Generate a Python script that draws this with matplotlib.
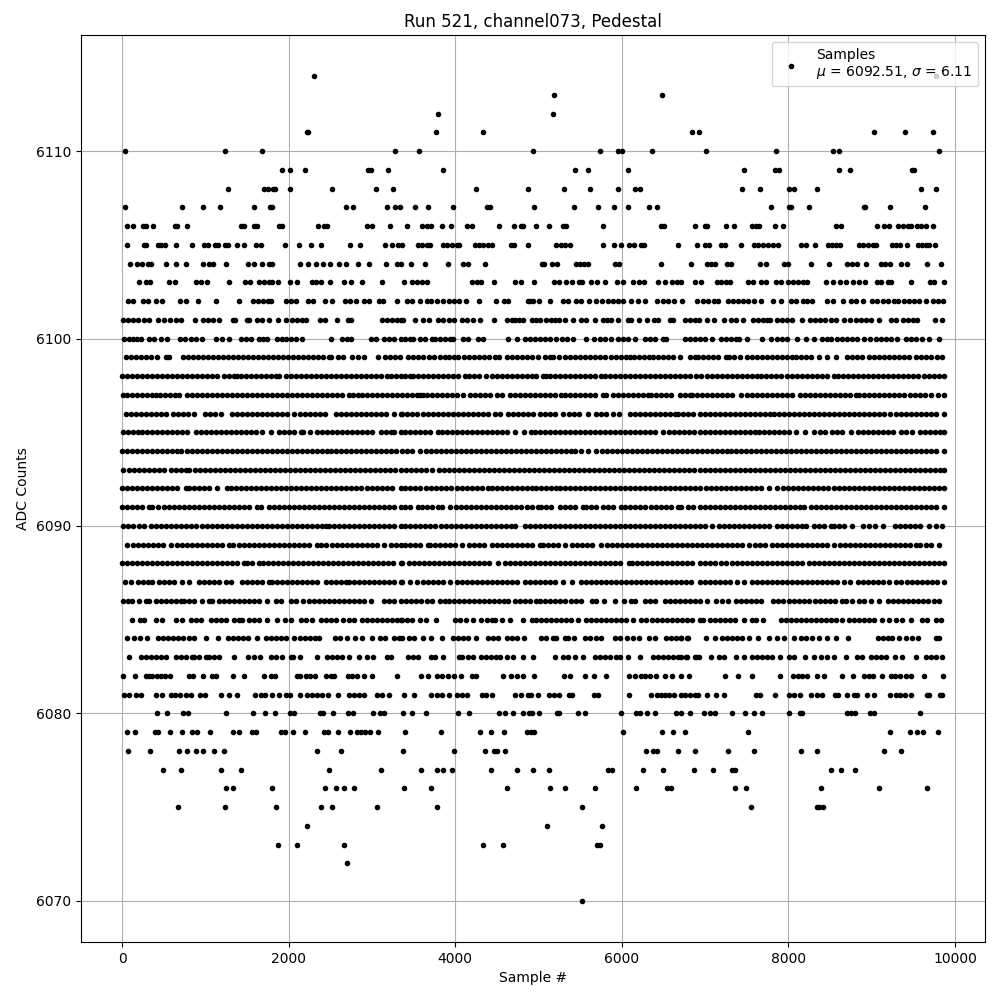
import matplotlib
matplotlib.use("Agg")
import matplotlib.pyplot as plt

# sample numbers, one list per ADC level
level_6114 = [2304, 9768]
level_6113 = [5184, 6480]
level_6112 = [3792, 5172]
level_6111 = [2220, 2236, 3768, 4332, 6840, 6924, 9024, 9396, 9732]
level_6110 = [36, 1236, 1680, 3276, 3564, 4932, 5736, 5960, 6000, 6360, 7008, 7848, 8532, 8604, 9804]
level_6109 = [1920, 2016, 2196, 2952, 2984, 3192, 3852, 5436, 5592, 6072, 7464, 7836, 7884, 8604, 8736, 9484, 9508]
level_6108 = [1272, 1704, 1752, 1816, 1840, 2016, 2520, 3048, 3252, 4248, 4872, 5304, 5616, 5952, 6156, 6220, 7440, 7656, 8004, 8064, 8340, 9588, 9768]
level_6107 = [36, 720, 972, 1176, 1584, 1776, 1804, 2688, 2772, 3180, 3276, 3336, 3516, 3672, 3972, 4380, 4416, 4944, 5424, 5712, 5904, 6072, 6324, 6420, 7788, 8004, 8032, 8244, 8904, 8924, 9216, 9636]
level_6106 = [60, 128, 252, 284, 368, 632, 656, 780, 1428, 1464, 1584, 1624, 1884, 1920, 2352, 2424, 2460, 2940, 3000, 3216, 3416, 3600, 3664, 3704, 3840, 3948, 4140, 4200, 4524, 4704, 4784, 4816, 4968, 5124, 5292, 5332, 5772, 6468, 6504, 6876, 6996, 7028, 7248, 7344, 7560, 7612, 7644, 7836, 7932, 8568, 8628, 9060, 9144, 9212, 9312, 9380, 9432, 9476, 9540, 9592, 9652, 9732]
level_6105 = [60, 264, 288, 432, 472, 520, 648, 840, 984, 1032, 1116, 1152, 1236, 1268, 1380, 1464, 1608, 1664, 1956, 2124, 2268, 2388, 2736, 2856, 3156, 3240, 3312, 3360, 3552, 3600, 3656, 3696, 3852, 3904, 3960, 4024, 4044, 4236, 4284, 4332, 4392, 4440, 4664, 4704, 4872, 5212, 5268, 5324, 5380, 5772, 5904, 5988, 6084, 6144, 6228, 6264, 6672, 6900, 6996, 7044, 7192, 7236, 7428, 7584, 7632, 7692, 7752, 7812, 7872, 8148, 8208, 8316, 8472, 8520, 8572, 8616, 8844, 8892, 8956, 9012, 9052, 9240, 9292, 9340, 9420, 9552, 9600, 9652, 9692, 9756]
level_6104 = [96, 180, 240, 312, 352, 528, 648, 768, 972, 1044, 1096, 1248, 1512, 1584, 1680, 1764, 1800, 2136, 2232, 2328, 2412, 2496, 2604, 2688, 2832, 2964, 3168, 3300, 3352, 3468, 3636, 3912, 4092, 4152, 4352, 5040, 5072, 5160, 5220, 5448, 5500, 5544, 5592, 5916, 5964, 6468, 6828, 7020, 7072, 7116, 7260, 7316, 7656, 7736, 7952, 7992, 8268, 8484, 8700, 8760, 8820, 8928, 9108, 9156, 9216, 9348, 9420, 9660, 9828]
level_6103 = [204, 288, 336, 564, 636, 888, 944, 1024, 1284, 1476, 1536, 1644, 1704, 1764, 1804, 1872, 2016, 2104, 2284, 2324, 2384, 2496, 2664, 2748, 2880, 3116, 3384, 3476, 3544, 3604, 3664, 4200, 4264, 4304, 4464, 4716, 4788, 4944, 5184, 5244, 5328, 5400, 5492, 5524, 5628, 5700, 5796, 5940, 6012, 6132, 6204, 6264, 6432, 6516, 6604, 6660, 6712, 6876, 6948, 7140, 7192, 7252, 7304, 7512, 7572, 7668, 7732, 7852, 7912, 7992, 8052, 8112, 8172, 8224, 8448, 8532, 8620, 8692, 8772, 8852, 8924, 9060, 9112, 9192, 9232, 9468, 9704, 9752, 9864]
level_6102 = [68, 128, 252, 312, 404, 484, 696, 768, 912, 1128, 1400, 1572, 1632, 1692, 1752, 1792, 1964, 2024, 2088, 2232, 2292, 2436, 2516, 2676, 2736, 2804, 2904, 2964, 3084, 3132, 3296, 3416, 3484, 3576, 3664, 3712, 3780, 3856, 3924, 3984, 4044, 4128, 4284, 4488, 4584, 4632, 4872, 4892, 4940, 5012, 5136, 5292, 5352, 5448, 5512, 5604, 5692, 5764, 5832, 5892, 5952, 6012, 6108, 6192, 6276, 6420, 6492, 6552, 6624, 6720, 6900, 6980, 7032, 7104, 7156, 7272, 7332, 7392, 7452, 7512, 7584, 7668, 7812, 7908, 8032, 8092, 8172, 8220, 8284, 8460, 8532, 8652, 8752, 8812, 8892, 9000, 9060, 9132, 9192, 9272, 9312, 9392, 9452, 9512, 9572, 9652, 9732, 9792, 9852]
level_6101 = [8, 68, 130, 192, 262, 328, 436, 500, 572, 644, 708, 876, 976, 1036, 1096, 1164, 1328, 1356, 1504, 1524, 1616, 1680, 1764, 1872, 1968, 2036, 2100, 2160, 2212, 2376, 2432, 2580, 2716, 2752, 3116, 3180, 3240, 3300, 3344, 3376, 3516, 3616, 3688, 3788, 3856, 3928, 3988, 4076, 4140, 4216, 4296, 4468, 4616, 4676, 4716, 4764, 4816, 4916, 4976, 5016, 5096, 5148, 5196, 5248, 5324, 5416, 5516, 5576, 5676, 5776, 5828, 5876, 5956, 6076, 6116, 6208, 6304, 6384, 6436, 6576, 6616, 6756, 6820, 6880, 6928, 7028, 7108, 7228, 7316, 7376, 7460, 7576, 7636, 7696, 7748, 7776, 7860, 7924, 7988, 8048, 8168, 8256, 8316, 8380, 8444, 8508, 8576, 8668, 8736, 8808, 8868, 8932, 8996, 9088, 9228, 9288, 9376, 9436, 9496, 9548, 9756, 9848]
level_6100 = [24, 84, 130, 176, 232, 324, 384, 464, 544, 696, 760, 824, 884, 960, 1124, 1204, 1284, 1424, 1484, 1548, 1644, 1696, 1744, 1864, 1920, 1964, 2024, 2084, 2164, 2504, 2644, 2700, 2744, 2984, 3044, 3144, 3204, 3268, 3344, 3400, 3456, 3496, 3576, 3636, 3716, 3756, 3816, 3876, 3936, 3976, 4088, 4156, 4276, 4336, 4636, 4744, 4836, 4896, 4956, 5016, 5076, 5136, 5216, 5284, 5344, 5416, 5576, 5668, 5736, 5796, 5876, 5956, 6016, 6076, 6156, 6276, 6340, 6400, 6496, 6536, 6756, 6820, 6880, 6940, 7000, 7088, 7188, 7248, 7308, 7368, 7408, 7508, 7688, 7788, 7860, 7928, 7988, 8108, 8208, 8312, 8408, 8460, 8508, 8588, 8648, 8708, 8768, 8828, 8908, 8976, 9048, 9108, 9168, 9232, 9308, 9408, 9468, 9528, 9608, 9688, 9808]
level_6099 = [48, 108, 168, 228, 288, 348, 424, 524, 564, 736, 796, 856, 916, 976, 1036, 1096, 1156, 1216, 1276, 1336, 1396, 1456, 1516, 1576, 1636, 1696, 1756, 1816, 1876, 1936, 1996, 2056, 2116, 2176, 2236, 2296, 2356, 2416, 2484, 2504, 2592, 2656, 2764, 2828, 2904, 3072, 3152, 3212, 3272, 3336, 3436, 3496, 3556, 3616, 3688, 3748, 3812, 3876, 3928, 3988, 4036, 4108, 4168, 4228, 4288, 4348, 4408, 4476, 4520, 4616, 4676, 4736, 4796, 4856, 4916, 4996, 5076, 5136, 5176, 5244, 5324, 5384, 5444, 5504, 5564, 5624, 5684, 5744, 5796, 5876, 5936, 5996, 6056, 6096, 6148, 6208, 6268, 6328, 6376, 6436, 6496, 6556, 6616, 6696, 6816, 6876, 6920, 6980, 7040, 7100, 7160, 7248, 7288, 7348, 7416, 7508, 7568, 7628, 7688, 7748, 7808, 7868, 7928, 7988, 8048, 8096, 8156, 8216, 8276, 8368, 8468, 8568, 8708, 8768, 8828, 8888, 8968, 9028, 9088, 9148, 9208, 9268, 9328, 9388, 9448, 9528, 9588, 9648, 9708, 9788, 9848]
level_6098 = [0, 60, 120, 180, 240, 300, 360, 420, 480, 540, 600, 660, 720, 780, 840, 900, 960, 1020, 1080, 1140, 1224, 1284, 1344, 1384, 1424, 1484, 1544, 1604, 1664, 1724, 1784, 1844, 1884, 1964, 2024, 2084, 2144, 2204, 2264, 2324, 2384, 2444, 2504, 2564, 2624, 2684, 2744, 2804, 2864, 2924, 2984, 3044, 3104, 3184, 3224, 3284, 3344, 3400, 3456, 3496, 3556, 3616, 3676, 3736, 3796, 3856, 3916, 3976, 4036, 4116, 4168, 4228, 4288, 4368, 4436, 4496, 4556, 4616, 4676, 4736, 4796, 4856, 4916, 4976, 5056, 5088, 5136, 5196, 5256, 5316, 5376, 5436, 5496, 5556, 5616, 5676, 5756, 5796, 5856, 5916, 5976, 6036, 6096, 6156, 6216, 6276, 6336, 6396, 6456, 6516, 6576, 6636, 6696, 6756, 6816, 6888, 6948, 7028, 7088, 7148, 7208, 7268, 7328, 7388, 7448, 7508, 7568, 7628, 7668, 7728, 7788, 7848, 7908, 7988, 8040, 8100, 8160, 8220, 8280, 8340, 8400, 8460, 8548, 8600, 8660, 8720, 8780, 8840, 8900, 8960, 9020, 9080, 9140, 9200, 9260, 9320, 9380, 9440, 9500, 9560, 9628, 9688, 9748, 9808, 9868]
level_6097 = [8, 64, 124, 184, 244, 304, 364, 404, 456, 516, 576, 636, 684, 776, 836, 896, 956, 1016, 1076, 1136, 1196, 1256, 1316, 1376, 1436, 1496, 1556, 1616, 1676, 1736, 1796, 1856, 1916, 1976, 2036, 2096, 2156, 2216, 2276, 2336, 2396, 2456, 2516, 2576, 2636, 2724, 2776, 2836, 2884, 2944, 3004, 3064, 3124, 3184, 3244, 3304, 3356, 3416, 3476, 3536, 3576, 3608, 3664, 3724, 3784, 3844, 3904, 3964, 4024, 4096, 4176, 4236, 4296, 4356, 4416, 4496, 4556, 4656, 4716, 4776, 4836, 4896, 4956, 5016, 5076, 5136, 5196, 5276, 5324, 5384, 5444, 5504, 5564, 5624, 5684, 5776, 5816, 5896, 5956, 6016, 6076, 6136, 6196, 6256, 6316, 6356, 6416, 6476, 6536, 6596, 6696, 6756, 6816, 6848, 6908, 6968, 7028, 7088, 7148, 7208, 7268, 7328, 7428, 7508, 7568, 7628, 7688, 7748, 7808, 7868, 7928, 7988, 8048, 8136, 8196, 8256, 8316, 8376, 8436, 8496, 8556, 8616, 8676, 8736, 8808, 8848, 8908, 8968, 9028, 9088, 9148, 9208, 9268, 9328, 9388, 9456, 9516, 9576, 9636, 9708, 9800, 9868]
level_6096 = [44, 104, 164, 224, 284, 344, 404, 464, 524, 616, 676, 736, 796, 864, 992, 1052, 1112, 1192, 1324, 1384, 1444, 1504, 1564, 1624, 1684, 1744, 1804, 1864, 1924, 1984, 2064, 2136, 2196, 2256, 2316, 2376, 2432, 2564, 2624, 2684, 2744, 2804, 2864, 2924, 2984, 3044, 3104, 3164, 3264, 3344, 3356, 3416, 3476, 3536, 3608, 3668, 3728, 3788, 3848, 3908, 3968, 4028, 4088, 4148, 4208, 4268, 4328, 4388, 4476, 4536, 4636, 4696, 4756, 4816, 4876, 4936, 5016, 5076, 5136, 5196, 5296, 5368, 5428, 5488, 5596, 5696, 5756, 5816, 5896, 5964, 6096, 6156, 6216, 6276, 6336, 6396, 6456, 6516, 6576, 6636, 6676, 6736, 6796, 6856, 6936, 6996, 7056, 7116, 7176, 7236, 7296, 7356, 7416, 7476, 7536, 7596, 7656, 7716, 7776, 7828, 7888, 7948, 8008, 8068, 8128, 8188, 8248, 8308, 8368, 8428, 8488, 8548, 8608, 8668, 8728, 8788, 8848, 8908, 8968, 9028, 9088, 9148, 9216, 9288, 9348, 9408, 9468, 9528, 9588, 9648, 9708, 9768, 9868]
level_6095 = [16, 76, 136, 196, 244, 304, 364, 424, 484, 544, 604, 664, 724, 784, 884, 944, 1004, 1064, 1124, 1184, 1244, 1304, 1364, 1424, 1484, 1544, 1604, 1676, 1784, 1884, 1944, 2004, 2064, 2144, 2172, 2256, 2344, 2404, 2464, 2524, 2584, 2644, 2704, 2764, 2824, 2884, 2944, 3004, 3104, 3164, 3224, 3264, 3344, 3396, 3456, 3516, 3576, 3636, 3696, 3796, 3836, 3896, 3956, 4016, 4076, 4136, 4196, 4256, 4316, 4376, 4436, 4496, 4556, 4616, 4716, 4824, 4904, 4964, 5024, 5084, 5144, 5204, 5264, 5324, 5384, 5444, 5504, 5564, 5624, 5684, 5744, 5804, 5864, 5924, 5984, 6044, 6104, 6164, 6224, 6284, 6344, 6404, 6496, 6568, 6628, 6688, 6748, 6808, 6868, 6936, 6996, 7056, 7116, 7176, 7236, 7296, 7356, 7416, 7476, 7536, 7596, 7648, 7708, 7768, 7828, 7888, 7948, 8008, 8088, 8200, 8308, 8376, 8440, 8520, 8580, 8640, 8748, 8840, 8900, 8960, 9020, 9080, 9140, 9200, 9260, 9348, 9408, 9480, 9576, 9636, 9696, 9756, 9816, 9868]
level_6094 = [0, 60, 124, 176, 236, 296, 356, 416, 476, 536, 596, 656, 704, 776, 836, 896, 956, 1016, 1076, 1136, 1196, 1256, 1316, 1376, 1436, 1496, 1556, 1616, 1676, 1736, 1796, 1856, 1916, 1976, 2036, 2096, 2156, 2216, 2276, 2336, 2396, 2456, 2504, 2564, 2624, 2684, 2744, 2804, 2864, 2924, 2984, 3044, 3104, 3164, 3224, 3284, 3356, 3416, 3476, 3576, 3648, 3708, 3768, 3828, 3888, 3948, 4008, 4068, 4128, 4188, 4248, 4308, 4368, 4428, 4488, 4548, 4608, 4668, 4728, 4788, 4848, 4908, 4968, 5028, 5088, 5148, 5208, 5268, 5328, 5388, 5436, 5516, 5596, 5696, 5768, 5828, 5888, 5948, 6008, 6068, 6128, 6188, 6248, 6308, 6368, 6428, 6488, 6548, 6608, 6668, 6728, 6788, 6848, 6908, 6968, 7028, 7088, 7148, 7208, 7268, 7308, 7368, 7428, 7488, 7548, 7608, 7668, 7728, 7788, 7848, 7908, 7968, 8028, 8088, 8148, 8208, 8268, 8328, 8388, 8448, 8508, 8568, 8628, 8688, 8748, 8808, 8868, 8928, 8988, 9048, 9108, 9168, 9228, 9288, 9348, 9408, 9468, 9528, 9588, 9648, 9708, 9768, 9868]
level_6093 = [8, 84, 144, 204, 264, 324, 384, 444, 504, 592, 644, 704, 764, 804, 872, 932, 992, 1052, 1112, 1172, 1232, 1292, 1352, 1412, 1472, 1532, 1592, 1652, 1712, 1772, 1832, 1892, 1952, 2012, 2072, 2132, 2192, 2252, 2312, 2372, 2432, 2492, 2552, 2612, 2672, 2732, 2792, 2852, 2912, 2972, 3032, 3092, 3152, 3212, 3272, 3344, 3404, 3464, 3524, 3584, 3644, 3716, 3808, 3868, 3928, 3988, 4048, 4108, 4168, 4228, 4288, 4348, 4408, 4468, 4528, 4588, 4648, 4708, 4768, 4828, 4888, 4948, 5008, 5068, 5128, 5188, 5248, 5308, 5368, 5428, 5488, 5548, 5608, 5668, 5728, 5788, 5848, 5908, 5968, 6028, 6088, 6148, 6208, 6268, 6328, 6388, 6448, 6508, 6568, 6628, 6688, 6748, 6808, 6868, 6936, 6996, 7056, 7116, 7176, 7236, 7296, 7356, 7416, 7476, 7536, 7596, 7656, 7716, 7776, 7836, 7896, 7956, 8016, 8076, 8136, 8196, 8256, 8316, 8376, 8436, 8496, 8556, 8616, 8676, 8736, 8796, 8856, 8916, 8976, 9036, 9096, 9156, 9216, 9276, 9336, 9396, 9456, 9516, 9576, 9636, 9696, 9756, 9816, 9868]
level_6092 = [4, 64, 124, 184, 244, 304, 364, 424, 484, 544, 604, 664, 764, 804, 864, 924, 984, 1044, 1144, 1256, 1312, 1372, 1432, 1492, 1552, 1612, 1672, 1732, 1792, 1852, 1912, 1972, 2032, 2092, 2152, 2212, 2272, 2332, 2392, 2452, 2512, 2572, 2632, 2692, 2752, 2812, 2872, 2944, 3004, 3064, 3124, 3184, 3244, 3344, 3396, 3456, 3516, 3576, 3648, 3704, 3764, 3824, 3884, 3944, 4016, 4076, 4136, 4196, 4256, 4316, 4396, 4436, 4496, 4556, 4616, 4676, 4736, 4796, 4856, 4916, 4976, 5036, 5096, 5156, 5216, 5256, 5316, 5376, 5436, 5496, 5556, 5616, 5676, 5736, 5796, 5856, 5916, 5976, 6036, 6096, 6156, 6216, 6276, 6336, 6396, 6456, 6516, 6576, 6636, 6696, 6756, 6816, 6876, 6936, 7008, 7068, 7128, 7188, 7248, 7308, 7368, 7428, 7488, 7548, 7608, 7668, 7768, 7868, 7936, 7996, 8056, 8116, 8176, 8236, 8296, 8356, 8416, 8476, 8548, 8608, 8668, 8728, 8788, 8848, 8908, 8968, 9028, 9088, 9148, 9208, 9268, 9328, 9388, 9448, 9508, 9568, 9628, 9688, 9748, 9808, 9868]
level_6091 = [0, 60, 124, 176, 244, 324, 364, 432, 504, 564, 624, 684, 744, 804, 864, 924, 984, 1044, 1104, 1164, 1224, 1284, 1344, 1404, 1464, 1524, 1624, 1672, 1764, 1824, 1884, 1944, 2004, 2064, 2124, 2184, 2244, 2304, 2364, 2424, 2484, 2544, 2604, 2664, 2724, 2784, 2844, 2904, 2964, 3024, 3084, 3144, 3204, 3264, 3344, 3396, 3456, 3556, 3596, 3656, 3716, 3796, 3836, 3936, 4008, 4068, 4128, 4188, 4248, 4308, 4368, 4428, 4488, 4548, 4608, 4668, 4728, 4788, 4856, 4916, 4996, 5036, 5096, 5156, 5256, 5324, 5384, 5444, 5536, 5576, 5636, 5696, 5776, 5836, 5896, 5996, 6036, 6096, 6156, 6216, 6276, 6356, 6416, 6476, 6536, 6596, 6676, 6716, 6796, 6856, 6936, 6996, 7056, 7116, 7176, 7236, 7296, 7356, 7416, 7476, 7536, 7596, 7656, 7716, 7776, 7836, 7896, 7956, 8016, 8076, 8136, 8188, 8268, 8328, 8388, 8448, 8508, 8568, 8628, 8688, 8748, 8808, 8868, 8928, 8988, 9048, 9108, 9168, 9228, 9288, 9348, 9408, 9468, 9528, 9588, 9648, 9708, 9768, 9868]
level_6090 = [16, 76, 136, 204, 264, 344, 404, 464, 524, 584, 644, 704, 764, 824, 884, 964, 1016, 1076, 1136, 1196, 1256, 1316, 1376, 1436, 1496, 1556, 1616, 1676, 1736, 1796, 1856, 1916, 1976, 2036, 2096, 2156, 2216, 2276, 2336, 2396, 2444, 2484, 2544, 2604, 2664, 2724, 2784, 2844, 2904, 2964, 3024, 3084, 3144, 3204, 3264, 3344, 3396, 3456, 3516, 3576, 3636, 3696, 3756, 3824, 3884, 3944, 4004, 4064, 4124, 4184, 4244, 4304, 4364, 4424, 4484, 4544, 4604, 4664, 4716, 4836, 4896, 4956, 5016, 5076, 5136, 5196, 5256, 5316, 5376, 5436, 5496, 5556, 5616, 5676, 5736, 5796, 5856, 5916, 5976, 6036, 6096, 6156, 6216, 6276, 6336, 6396, 6456, 6516, 6576, 6636, 6696, 6756, 6816, 6876, 6936, 6996, 7088, 7168, 7228, 7288, 7348, 7408, 7468, 7528, 7588, 7648, 7708, 7768, 7868, 7920, 7980, 8040, 8100, 8160, 8208, 8308, 8368, 8428, 8508, 8548, 8608, 8668, 8768, 8896, 8968, 9040, 9136, 9280, 9340, 9400, 9460, 9520, 9580, 9688, 9768, 9848]
level_6089 = [64, 136, 196, 256, 316, 376, 436, 496, 584, 656, 716, 776, 836, 896, 956, 1016, 1076, 1136, 1196, 1284, 1332, 1404, 1464, 1524, 1584, 1644, 1704, 1764, 1824, 1884, 1944, 2004, 2064, 2124, 2184, 2244, 2344, 2384, 2444, 2524, 2584, 2644, 2704, 2764, 2824, 2884, 2944, 3004, 3064, 3144, 3224, 3284, 3344, 3396, 3456, 3516, 3576, 3676, 3696, 3756, 3816, 3876, 3936, 3996, 4076, 4168, 4228, 4288, 4348, 4436, 4496, 4556, 4616, 4676, 4736, 4796, 4856, 4916, 5016, 5056, 5116, 5176, 5236, 5316, 5408, 5468, 5528, 5588, 5648, 5748, 5824, 5884, 5944, 6004, 6064, 6124, 6184, 6244, 6304, 6364, 6424, 6484, 6544, 6604, 6664, 6724, 6784, 6844, 6904, 6964, 7024, 7084, 7144, 7204, 7264, 7324, 7384, 7444, 7528, 7600, 7660, 7720, 7808, 7868, 7928, 7988, 8048, 8108, 8168, 8228, 8288, 8348, 8408, 8468, 8548, 8616, 8676, 8736, 8796, 8856, 8916, 8976, 9036, 9096, 9156, 9216, 9276, 9336, 9396, 9456, 9528, 9580, 9656, 9716, 9808]
level_6088 = [0, 60, 120, 180, 240, 300, 360, 420, 480, 540, 600, 660, 720, 780, 840, 900, 960, 1020, 1080, 1140, 1200, 1260, 1320, 1380, 1464, 1504, 1564, 1644, 1692, 1752, 1812, 1872, 1932, 1992, 2052, 2112, 2172, 2232, 2292, 2352, 2412, 2472, 2532, 2592, 2652, 2712, 2772, 2832, 2892, 2952, 3012, 3072, 3132, 3192, 3252, 3344, 3356, 3448, 3504, 3564, 3624, 3684, 3744, 3804, 3864, 3924, 3984, 4044, 4104, 4164, 4224, 4284, 4344, 4404, 4516, 4596, 4656, 4716, 4776, 4836, 4896, 4956, 5016, 5076, 5136, 5196, 5256, 5316, 5376, 5436, 5496, 5556, 5616, 5676, 5736, 5796, 5856, 5916, 5976, 6088, 6128, 6188, 6248, 6308, 6368, 6428, 6488, 6548, 6608, 6668, 6728, 6788, 6848, 6936, 6996, 7056, 7116, 7188, 7248, 7328, 7388, 7448, 7508, 7568, 7628, 7688, 7748, 7808, 7868, 7928, 7988, 8048, 8108, 8168, 8248, 8308, 8368, 8428, 8488, 8548, 8608, 8668, 8728, 8788, 8848, 8908, 8968, 9028, 9088, 9148, 9208, 9268, 9328, 9388, 9448, 9508, 9568, 9628, 9688, 9748, 9808, 9868]
level_6087 = [32, 104, 192, 252, 312, 364, 444, 504, 564, 624, 724, 804, 924, 984, 1044, 1104, 1164, 1244, 1312, 1444, 1504, 1564, 1624, 1684, 1764, 1804, 1864, 1924, 1984, 2044, 2104, 2164, 2224, 2284, 2344, 2444, 2504, 2564, 2624, 2684, 2724, 2784, 2844, 2904, 2964, 3024, 3084, 3144, 3204, 3264, 3344, 3356, 3456, 3536, 3616, 3676, 3736, 3796, 3856, 3936, 4016, 4076, 4136, 4196, 4256, 4316, 4376, 4436, 4496, 4556, 4616, 4676, 4736, 4836, 4896, 4956, 5016, 5076, 5136, 5196, 5296, 5404, 5516, 5576, 5636, 5696, 5756, 5816, 5876, 5936, 5996, 6056, 6116, 6176, 6236, 6296, 6356, 6416, 6476, 6536, 6596, 6656, 6716, 6776, 6836, 6936, 6996, 7056, 7116, 7176, 7236, 7296, 7388, 7468, 7568, 7628, 7688, 7748, 7808, 7868, 7928, 7988, 8048, 8108, 8168, 8228, 8288, 8348, 8408, 8468, 8528, 8588, 8668, 8736, 8836, 8896, 8956, 9016, 9076, 9136, 9208, 9288, 9348, 9428, 9488, 9548, 9608, 9668, 9728, 9788, 9868]
level_6086 = [8, 68, 124, 204, 284, 324, 404, 464, 524, 584, 644, 704, 744, 804, 864, 964, 1044, 1084, 1164, 1224, 1284, 1344, 1404, 1464, 1524, 1584, 1644, 1744, 1852, 1912, 2032, 2092, 2176, 2244, 2304, 2364, 2424, 2484, 2544, 2604, 2664, 2724, 2784, 2844, 2904, 2984, 3144, 3204, 3264, 3344, 3404, 3464, 3524, 3584, 3656, 3716, 3816, 3876, 3928, 3984, 4044, 4104, 4164, 4224, 4284, 4344, 4404, 4464, 4524, 4584, 4636, 4716, 4776, 4836, 4896, 4976, 5016, 5076, 5136, 5196, 5256, 5324, 5396, 5456, 5516, 5648, 5696, 5788, 5916, 6028, 6116, 6156, 6276, 6336, 6396, 6516, 6576, 6636, 6696, 6756, 6816, 6876, 6936, 7028, 7128, 7208, 7280, 7368, 7428, 7488, 7548, 7608, 7668, 7820, 7880, 7936, 8008, 8068, 8128, 8188, 8248, 8320, 8380, 8440, 8500, 8560, 8648, 8688, 8768, 8848, 8908, 8988, 9092, 9200, 9260, 9320, 9380, 9440, 9500, 9560, 9620, 9680, 9748, 9804]
level_6085 = [124, 216, 264, 404, 484, 644, 724, 832, 884, 944, 1072, 1132, 1192, 1252, 1344, 1404, 1444, 1524, 1584, 1644, 1744, 1864, 1952, 2028, 2144, 2204, 2284, 2384, 2444, 2504, 2564, 2656, 2724, 2784, 2884, 2944, 3004, 3064, 3124, 3184, 3244, 3304, 3344, 3356, 3416, 3476, 3576, 3644, 3768, 3996, 4056, 4128, 4208, 4312, 4376, 4436, 4476, 4556, 4656, 4808, 4916, 4976, 5036, 5096, 5156, 5216, 5276, 5336, 5396, 5476, 5576, 5636, 5696, 5756, 5816, 5876, 5936, 5996, 6056, 6136, 6236, 6296, 6364, 6424, 6484, 6544, 6604, 6664, 6724, 6784, 6844, 6936, 6976, 7056, 7116, 7176, 7236, 7296, 7356, 7468, 7560, 7616, 7700, 7908, 7968, 8028, 8088, 8148, 8208, 8268, 8328, 8388, 8448, 8508, 8568, 8648, 8728, 8788, 8848, 8908, 8968, 9028, 9128, 9208, 9288, 9368, 9468, 9608, 9668, 9776, 9828]
level_6084 = [56, 144, 216, 304, 432, 492, 552, 612, 672, 732, 804, 864, 1008, 1152, 1272, 1332, 1392, 1452, 1512, 1624, 1724, 1784, 1844, 1904, 1964, 2064, 2132, 2192, 2252, 2312, 2364, 2556, 2616, 2704, 2792, 2876, 3004, 3096, 3156, 3264, 3324, 3356, 3448, 3504, 3616, 3708, 3844, 3968, 4028, 4088, 4156, 4244, 4388, 4448, 4508, 4616, 4676, 4736, 4824, 5036, 5096, 5176, 5216, 5316, 5356, 5424, 5556, 5616, 5696, 5756, 5916, 5976, 6064, 6136, 6204, 6328, 6404, 6536, 6596, 6656, 6716, 6796, 6708, 6788, 7008, 7116, 7208, 7268, 7328, 7388, 7448, 7528, 7640, 7768, 7868, 7952, 8068, 8148, 8208, 8280, 8368, 8468, 8568, 8720, 9076, 9136, 9196, 9248, 9328, 9408, 9488, 9560, 9776, 9808]
level_6083 = [84, 224, 284, 344, 404, 464, 524, 644, 704, 764, 844, 864, 924, 1004, 1044, 1104, 1164, 1344, 1512, 1584, 1656, 1784, 1854, 1924, 2024, 2056, 2136, 2344, 2464, 2524, 2584, 2644, 2724, 2844, 2944, 3016, 3176, 3232, 3436, 3496, 3556, 3704, 3756, 3856, 4048, 4076, 4156, 4216, 4308, 4368, 4428, 4488, 4536, 4616, 4696, 4816, 4936, 5196, 5296, 5356, 5436, 5536, 5676, 5736, 5796, 5856, 5936, 5976, 6076, 6224, 6376, 6436, 6496, 6556, 6616, 6676, 6776, 6876, 6708, 6788, 6888, 6928, 7076, 7168, 7228, 7376, 7468, 7568, 7628, 7688, 7748, 7808, 7896, 8008, 8068, 8200, 8308, 8388, 8468, 8548, 8688, 8828, 8888, 8988, 9048, 9108, 9176, 9280, 9368, 9536, 9648, 9708, 9768, 9848]
level_6082 = [12, 156, 288, 324, 360, 416, 468, 516, 576, 804, 856, 968, 1080, 1128, 1332, 1464, 1704, 1792, 1836, 2104, 2136, 2204, 2256, 2316, 2448, 2504, 2544, 2712, 2764, 2824, 2904, 3004, 3300, 3592, 3672, 3784, 3844, 3912, 3984, 4064, 4204, 4252, 4576, 4664, 4744, 4816, 4944, 5304, 5380, 5564, 5668, 5808, 6084, 6160, 6232, 6280, 6340, 6408, 6516, 6600, 6712, 6804, 7244, 7396, 7560, 7896, 8052, 8112, 8160, 8220, 8340, 8424, 8640, 8772, 8908, 8964, 9012, 9120, 9228, 9280, 9336, 9408, 9468, 9624, 9852]
level_6081 = [24, 84, 168, 224, 408, 484, 592, 632, 696, 768, 832, 936, 996, 1188, 1284, 1380, 1600, 1664, 1716, 1800, 1888, 1972, 2016, 2136, 2224, 2284, 2344, 2404, 2472, 2592, 2724, 2784, 2844, 2904, 3060, 3124, 3204, 3384, 3504, 3708, 3780, 3840, 3924, 4024, 4084, 4144, 4324, 4364, 4444, 4716, 4788, 4872, 4912, 5000, 5132, 5192, 5244, 5364, 5404, 5664, 5712, 6084, 6348, 6420, 6472, 6524, 6572, 6632, 6712, 6764, 6816, 6884, 6912, 7020, 7128, 7224, 7608, 7656, 7836, 8004, 8064, 8136, 8272, 8340, 8400, 8560, 8592, 8700, 8784, 8820, 8940, 9024, 9216, 9292, 9340, 9400, 9472, 9660, 9684, 9816, 9844]
level_6080 = [420, 540, 732, 792, 1248, 1572, 1716, 1836, 2016, 2064, 2376, 2416, 2532, 2712, 2772, 3012, 3096, 3144, 3372, 3480, 3648, 4032, 4164, 4524, 4596, 4692, 4812, 4884, 4924, 5012, 5224, 5252, 5472, 5556, 5988, 6168, 6220, 6300, 6396, 6656, 6712, 6816, 6984, 7056, 7116, 7320, 7476, 7584, 7680, 8004, 8136, 8164, 8700, 8752, 8796, 8976, 9028, 9576]
level_6079 = [60, 156, 396, 432, 576, 720, 844, 896, 1056, 1332, 1404, 1560, 1612, 1908, 1956, 2052, 2196, 2424, 2472, 2592, 2736, 2816, 2864, 2916, 2976, 3072, 3396, 3828, 4296, 4428, 4584, 4864, 4904, 4952, 6012, 6480, 6612, 6756, 7512, 9216, 9456, 9540, 9612, 9792]
level_6078 = [72, 336, 684, 780, 888, 972, 1104, 1224, 2340, 2628, 3372, 3984, 4356, 4464, 4504, 4596, 6288, 6372, 6420, 6672, 6876, 7272, 7584, 8148, 8340, 9144, 9348]
level_6077 = [492, 708, 1188, 1428, 2484, 3108, 3592, 3780, 3852, 3960, 4428, 4740, 4932, 5124, 5832, 5880, 6252, 6492, 6864, 7092, 7320, 7356, 8508, 8628, 8796]
level_6076 = [1248, 1332, 1800, 2436, 2568, 2664, 2784, 3384, 3708, 4620, 5136, 5316, 5676, 6168, 6540, 6588, 7356, 7488, 8388, 9084, 9660]
level_6075 = [672, 1236, 1848, 2388, 2520, 3060, 3780, 5520, 7548, 8340, 8364, 8412]
level_6074 = [2220, 5100, 5760]
level_6073 = [1872, 2100, 2664, 4332, 4572, 5700, 5740]
level_6072 = [2700]
level_6070 = [5520]

levels = {
    6114: level_6114, 6113: level_6113, 6112: level_6112, 6111: level_6111, 6110: level_6110,
    6109: level_6109, 6108: level_6108, 6107: level_6107, 6106: level_6106, 6105: level_6105,
    6104: level_6104, 6103: level_6103, 6102: level_6102, 6101: level_6101, 6100: level_6100,
    6099: level_6099, 6098: level_6098, 6097: level_6097, 6096: level_6096, 6095: level_6095,
    6094: level_6094, 6093: level_6093, 6092: level_6092, 6091: level_6091, 6090: level_6090,
    6089: level_6089, 6088: level_6088, 6087: level_6087, 6086: level_6086, 6085: level_6085,
    6084: level_6084, 6083: level_6083, 6082: level_6082, 6081: level_6081, 6080: level_6080,
    6079: level_6079, 6078: level_6078, 6077: level_6077, 6076: level_6076, 6075: level_6075,
    6074: level_6074, 6073: level_6073, 6072: level_6072, 6070: level_6070,
}

samples = []
counts = []
for adc, xs in levels.items():
    for s in xs:
        samples.append(s)
        counts.append(adc)

fig, ax = plt.subplots(figsize=(10, 10))
# zorder keeps the dots over the grid lines
ax.scatter(samples, counts, marker=".", color="k", zorder=2, label="Samples\n$\\mu$ = 6092.51, $\\sigma$ = 6.11")
ax.set_title("Run 521, channel073, Pedestal")
ax.set_xlabel("Sample #")
ax.set_ylabel("ADC Counts")
ax.grid(True)
ax.legend(loc="upper right")
fig.subplots_adjust(left=0.081, right=0.985, top=0.965, bottom=0.058)
fig.savefig("out.png", dpi=100)
